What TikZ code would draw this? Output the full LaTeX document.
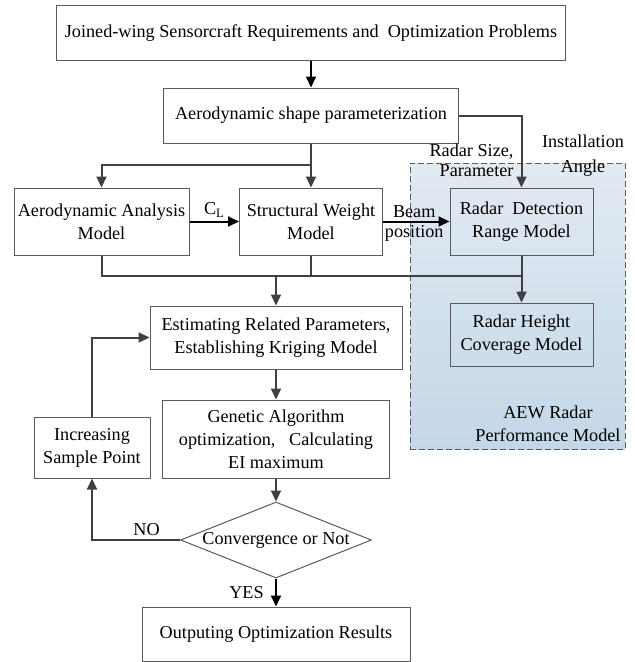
\documentclass[tikz,border=0pt]{standalone}
\usepackage{fontspec}
\setmainfont{Liberation Serif}
\usetikzlibrary{arrows.meta, positioning, shapes.geometric}
\definecolor{linegray}{HTML}{404040}
\definecolor{boxgray}{HTML}{5A5A5A}
\definecolor{aewtop}{HTML}{E2EAF2}
\definecolor{aewbot}{HTML}{C4D7E8}

\begin{document}
\begin{tikzpicture}[x=1pt,y=-1pt,
  font=\fontsize{18.2}{23}\selectfont,
  >={Stealth[inset=0pt,length=11pt,width=10pt]},
  box/.style={draw=boxgray, line width=1pt, align=center, inner sep=0pt},
  link/.style={draw=linegray, line width=2pt},
  main/.style={draw=black, line width=2pt}]
\useasboundingbox (0,0) rectangle (635,662);

% radar area
\node[draw=boxgray, dash pattern=on 6pt off 3pt, line width=1pt, top color=aewtop, bottom color=aewbot,
  minimum width=215, minimum height=286] (aew) at (517.5,306) {};
\node[align=center] (aewlbl) at (548,424) {AEW Radar\\Performance Model};

\node[box, fill=white, minimum width=509, minimum height=55] (req) at (311,33)
  {Joined-wing Sensorcraft Requirements and~ Optimization Problems};
\node[box, fill=white, minimum width=295, minimum height=55] (param) at (311,115.5)
  {Aerodynamic shape parameterization};
\node[box, fill=white, minimum width=175, minimum height=67] (aero) at (101.5,221.5)
  {Aerodynamic Analysis\\Model};
\node[box, fill=white, minimum width=143, minimum height=67] (struct) at (311,221.5)
  {Structural Weight\\Model};
\node[box, minimum width=143, minimum height=67] (detect) at (521.5,221.5)
  {Radar~ Detection\\Range Model};
\node[box, minimum width=143, minimum height=63] (cover) at (521.5,334.5)
  {Radar Height\\Coverage Model};
\node[box, fill=white, minimum width=252, minimum height=63] (krig) at (276,337.5)
  {Estimating Related Parameters,\\Establishing Kriging Model};
\node[box, fill=white, minimum width=227, minimum height=78] (ga) at (276,439)
  {Genetic Algorithm\\optimization,~~ Calculating\\EI maximum};
\node[box, fill=white, minimum width=116, minimum height=61] (incr) at (92,447.5)
  {Increasing\\Sample Point};
\node[box, fill=white, diamond, aspect=2.5, minimum width=191, minimum height=76] (conv)
  at (276,540) {Convergence or Not};
\node[box, fill=white, minimum width=268, minimum height=54] (out) at (276,634)
  {Outputing Optimization Results};

\node[align=right, anchor=east] (sizelbl) at (517,160) {Radar Size,\\[-3pt]Parameter};
\node[align=center] (anglelbl) at (583,156) {Installation\\[2pt]Angle};

\coordinate (s1) at (311,165);
\coordinate (s2) at (521.5,276);

\draw[main,->] (req) -- (param);
\draw[link] (param) -- (s1);
\draw[link,->] (s1) -| (aero);
\draw[link,->] (s1) -- (struct);
\draw[link,->] (param.east) -| (detect.north);
\draw[main,->] (aero) -- node[above]{C\textsubscript{L}} (struct);
\draw[main,->] (struct) -- node[above, inner sep=3pt, xshift=-2pt]{Beam}
  node[below, inner sep=3pt, xshift=-2pt]{position} (detect);
\draw[link] (aero.south) |- (s2);
\draw[link] (struct) -- (struct.south |- s2);
\draw[link,->] (detect) -- (cover);
\draw[link,->] (krig.north |- s2) -- (krig);
\draw[link,->] (krig) -- (ga);
\draw[link,->] (ga) -- (conv);
\draw[main,->] (conv) -- node[left=8pt]{YES} (out);
\draw[link,->] (conv.west) -| node[above, pos=0.19]{NO} (incr);
\draw[link,->] (incr) |- (krig);
\end{tikzpicture}
\end{document}
